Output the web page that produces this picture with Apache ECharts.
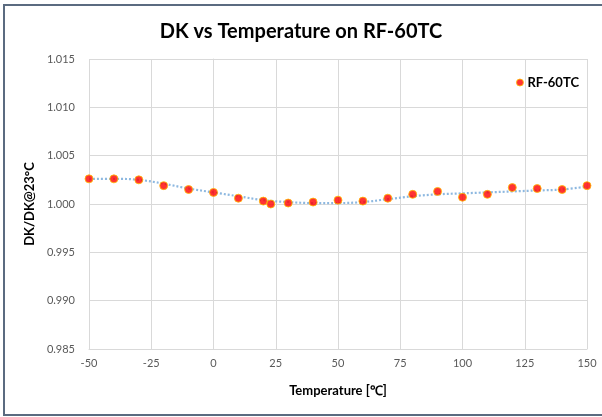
<!DOCTYPE html>
<html>
<head>
<meta charset="utf-8">
<script src="https://cdn.jsdelivr.net/npm/echarts@6/dist/echarts.min.js"></script>
<style>
html,body{margin:0;padding:0;background:#fff;}
#c{width:602px;height:417px;}
</style>
</head>
<body>
<div id="c"></div>
<script>
var temps = [-50,-40,-30,-20,-10,0,10,20,23,30,40,50,60,70,80,90,100,110,120,130,140,150];
var dkRatio = [1.0026,1.0026,1.0025,1.0019,1.0015,1.0012,1.0006,1.0003,1.0000,1.0001,1.0002,1.0004,1.0003,1.0006,1.0010,1.0013,1.0007,1.0010,1.0017,1.0016,1.0015,1.0019];
var trendTemps = [-50,-40,-30,-20,-10,0,10,20,30,40,50,60,70,80,90,100,110,120,130,140,150];
var trendValues = [1.0026,1.0026,1.0025,1.0021,1.0016,1.0012,1.0008,1.0004,1.0002,1.0001,1.0001,1.0002,1.0005,1.0008,1.0010,1.0011,1.0012,1.0013,1.0014,1.0015,1.0018];
var seriesName = 'RF-60TC';
var titleText = 'DK vs Temperature on RF-60TC';

var FONT = 'Lato, "Open Sans", sans-serif';
var chart = echarts.init(document.getElementById('c'), null, {renderer:'canvas'});
chart.setOption({
  animation:false,
  backgroundColor:'#fff',
  title:{text:titleText,left:'center',top:17,textStyle:{fontFamily:FONT,fontSize:20,fontWeight:'bold',color:'#000'}},
  legend:{right:18,top:71,itemWidth:7,itemHeight:7,itemGap:4,
    data:[{name:seriesName,icon:'circle',itemStyle:{color:'#ff0000',borderColor:'#ffc000',borderWidth:1}}],
    textStyle:{fontFamily:FONT,fontSize:13,fontWeight:'bold',color:'#000',padding:[0,0,0,-1]}},
  grid:{left:89,right:15,top:59,bottom:68},
  xAxis:{type:'value',min:-50,max:150,interval:25,
    name:'Temperature [\u2103]',nameLocation:'middle',nameGap:35,
    nameTextStyle:{fontFamily:FONT,fontSize:13,fontWeight:'bold',color:'#000'},
    axisLine:{show:true,lineStyle:{color:'#d9d9d9'}},axisTick:{show:false},
    axisLabel:{fontFamily:FONT,fontSize:11,color:'#595959',margin:9},
    splitLine:{show:true,lineStyle:{color:'#d9d9d9'}}},
  yAxis:{type:'value',min:0.985,max:1.015,interval:0.005,
    name:'DK/DK@23\u00B0C',nameLocation:'middle',nameGap:48,
    nameTextStyle:{fontFamily:FONT,fontSize:13,fontWeight:'bold',color:'#000'},
    axisLine:{show:true,lineStyle:{color:'#d9d9d9'}},axisTick:{show:false},
    axisLabel:{fontFamily:FONT,fontSize:11,color:'#595959',margin:14,formatter:function(v){return v.toFixed(3);}},
    splitLine:{show:true,lineStyle:{color:'#d9d9d9'}}},
  graphic:[{type:'rect',shape:{x:4,y:5,width:620,height:410},style:{fill:'none',stroke:'#5b6b80',lineWidth:2},silent:true,z:100}],
  series:[
    {name:'trend',type:'line',smooth:0.4,symbol:'none',
     data:trendTemps.map(function(t,i){return [t,trendValues[i]];}),
     lineStyle:{color:'#8db8e0',width:2.2,type:[2,2]},z:2},
    {name:seriesName,type:'scatter',symbol:'circle',symbolSize:8,
     data:temps.map(function(t,i){return [t,dkRatio[i]];}),
     itemStyle:{color:'#ff0000',borderColor:'#ffc000',borderWidth:1},z:3}
  ]
});
</script>
</body>
</html>
